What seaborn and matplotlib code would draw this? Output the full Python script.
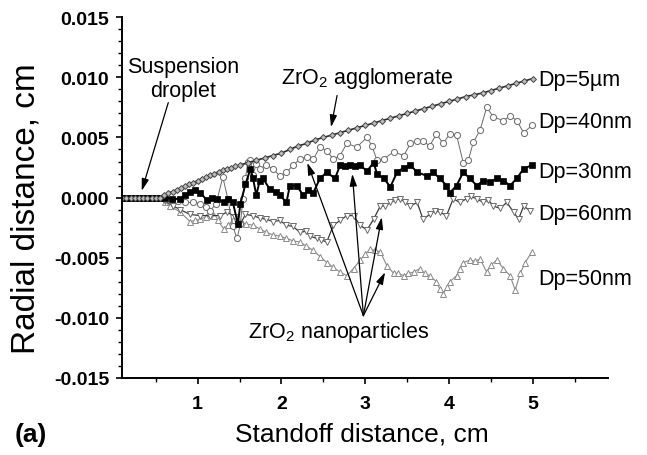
import matplotlib
matplotlib.use("Agg")
import matplotlib.pyplot as plt
import seaborn as sns
import numpy as np
from matplotlib.ticker import MultipleLocator, FixedLocator, FuncFormatter

# ---------------- data ----------------
x_flat = [0.10, 0.15, 0.20, 0.25, 0.30, 0.35, 0.40, 0.45, 0.50, 0.55]
y_flat = [0.0, 0.0, 0.0, 0.0, 0.0, 0.0, 0.0, 0.0, 0.0, 0.0]

x_5um = [0.60, 0.65, 0.70, 0.75, 0.80, 0.85, 0.90, 0.95, 1.00,
         1.05, 1.10, 1.15, 1.20, 1.25, 1.30, 1.35, 1.40, 1.45, 1.50,
         1.60, 1.70, 1.80, 1.90, 2.00,
         2.10, 2.20, 2.30, 2.40, 2.50, 2.60, 2.70, 2.80, 2.90, 3.00,
         3.10, 3.20, 3.30, 3.40, 3.50, 3.60, 3.70, 3.80, 3.90, 4.00,
         4.10, 4.20, 4.30, 4.40, 4.50, 4.60, 4.70, 4.80, 4.90, 5.00]
y_5um = [0.0002, 0.00035, 0.0005, 0.00065, 0.0008, 0.00095, 0.0011, 0.00125, 0.0014,
         0.00155, 0.0017, 0.00185, 0.0020, 0.00215, 0.0023, 0.0024, 0.0025, 0.0026, 0.0027,
         0.0029, 0.0031, 0.0033, 0.0035, 0.0037,
         0.0040, 0.0043, 0.0045, 0.0048, 0.0050, 0.0052, 0.0054, 0.0056, 0.0058, 0.0060,
         0.0062, 0.0064, 0.0066, 0.0068, 0.0070, 0.0072, 0.0074, 0.0076, 0.0078, 0.0080,
         0.0082, 0.0084, 0.00855, 0.0087, 0.0089, 0.0091, 0.0093, 0.0095, 0.0097, 0.0099]

x_40 = [0.61, 0.67, 0.76, 0.85, 0.94, 1.03, 1.10, 1.15, 1.22, 1.30,
        1.36, 1.42, 1.47, 1.51, 1.54, 1.57, 1.60, 1.63, 1.66, 1.70,
        1.74, 1.82, 1.90, 1.98, 2.06, 2.14, 2.22, 2.30, 2.38, 2.46,
        2.54, 2.62, 2.70, 2.78, 2.90, 3.02, 3.08, 3.14, 3.22, 3.34,
        3.46, 3.54, 3.62, 3.69, 3.77, 3.85, 3.93, 4.01, 4.09, 4.17,
        4.23, 4.29, 4.37, 4.45, 4.53, 4.65, 4.73, 4.81, 4.89, 4.99]
y_40 = [-0.0001, -0.0002, -0.0003, -0.0004, -0.0004, -0.0005, -0.0008, -0.0011, -0.0005, 0.0017,
        -0.0001, -0.0024, -0.0034, -0.0022, -0.0001, 0.0016, 0.0030, 0.0031, 0.0019, 0.0028,
        0.0024, 0.0027, 0.0024, 0.0018, 0.0021, 0.0027, 0.0032, 0.0034, 0.0032, 0.0042,
        0.0039, 0.0032, 0.0035, 0.0045, 0.0042, 0.0050, 0.0043, 0.0031, 0.0032, 0.0038,
        0.0035, 0.0045, 0.0047, 0.0047, 0.0043, 0.0053, 0.0045, 0.0053, 0.0052, 0.0029,
        0.0031, 0.0046, 0.0056, 0.0075, 0.0067, 0.0064, 0.0068, 0.0064, 0.0054, 0.0060]

x_30 = [0.61, 0.69, 0.79, 0.85, 0.91, 0.97, 1.03, 1.11, 1.17, 1.23,
        1.31, 1.36, 1.42, 1.48, 1.51, 1.57, 1.63, 1.66, 1.70, 1.74,
        1.78, 1.86, 1.94, 1.98, 2.06, 2.10, 2.18, 2.26, 2.32, 2.38,
        2.46, 2.54, 2.64, 2.70, 2.76, 2.82, 2.88, 2.94, 3.02, 3.10,
        3.14, 3.22, 3.30, 3.38, 3.46, 3.54, 3.62, 3.74, 3.81, 3.89,
        3.97, 4.01, 4.09, 4.17, 4.25, 4.33, 4.41, 4.49, 4.57, 4.65,
        4.73, 4.81, 4.89, 4.99]
y_30 = [0.0, -0.0001, -0.0001, 0.0002, 0.0005, 0.0006, 0.0004, -0.0002, 0.0, -0.0001,
        -0.0004, -0.0001, -0.0004, -0.0022, -0.0005, 0.0011, 0.0024, 0.0016, 0.0002, 0.0014,
        0.0016, 0.0007, 0.0005, 0.0002, -0.0004, 0.0010, 0.0010, 0.0002, 0.0006, 0.0004,
        0.0016, 0.0021, 0.0016, 0.0027, 0.0026, 0.0027, 0.0026, 0.0027, 0.0022, 0.0029,
        0.0020, 0.0016, 0.0009, 0.0021, 0.0025, 0.0027, 0.0021, 0.0018, 0.0021, 0.0016,
        0.0010, 0.0004, 0.0010, 0.0021, 0.0016, 0.0010, 0.0014, 0.0013, 0.0016, 0.0014,
        0.0010, 0.0016, 0.0024, 0.0027]

x_60 = [0.61, 0.71, 0.79, 0.91, 1.03, 1.15, 1.27, 1.35, 1.45, 1.51,
        1.57, 1.66, 1.74, 1.82, 1.90, 1.98, 2.06, 2.14, 2.22, 2.29,
        2.34, 2.42, 2.47, 2.54, 2.62, 2.70, 2.78, 2.86, 2.94, 3.02,
        3.10, 3.18, 3.24, 3.30, 3.36, 3.42, 3.48, 3.54, 3.62, 3.69,
        3.77, 3.83, 3.89, 3.97, 4.05, 4.13, 4.21, 4.26, 4.33, 4.41,
        4.47, 4.53, 4.61, 4.69, 4.77, 4.83, 4.89, 4.97]
y_60 = [-0.0003, -0.0007, -0.0010, -0.0014, -0.0015, -0.0015, -0.0015, -0.0012, -0.0016, -0.0022,
        -0.0014, -0.0015, -0.0017, -0.0018, -0.0020, -0.0019, -0.0023, -0.0024, -0.0029, -0.0028,
        -0.0032, -0.0034, -0.0035, -0.0037, -0.0023, -0.0019, -0.0015, -0.0015, -0.0023, -0.0027,
        -0.0018, -0.0007, -0.0007, -0.0004, -0.0002, -0.0001, -0.0004, -0.0007, -0.0004, -0.0018,
        -0.0014, -0.0011, -0.0012, -0.0015, -0.0001, -0.0004, -0.0001, 0.0001, -0.0001, -0.0004,
        -0.0002, -0.0007, -0.0009, -0.0004, -0.0012, -0.0018, -0.0007, -0.0011]

x_50 = [0.61, 0.67, 0.79, 0.91, 0.97, 1.03, 1.10, 1.19, 1.24, 1.31,
        1.36, 1.42, 1.51, 1.58, 1.66, 1.74, 1.82, 1.90, 1.98, 2.06,
        2.14, 2.22, 2.29, 2.38, 2.46, 2.54, 2.62, 2.70, 2.78, 2.86,
        2.94, 3.00, 3.06, 3.12, 3.18, 3.26, 3.34, 3.39, 3.46, 3.51,
        3.58, 3.65, 3.71, 3.77, 3.85, 3.89, 3.93, 3.98, 4.01, 4.09,
        4.13, 4.17, 4.25, 4.31, 4.37, 4.45, 4.50, 4.57, 4.65, 4.73,
        4.79, 4.85, 4.91, 4.99]
y_50 = [-0.0004, -0.0007, -0.0012, -0.0020, -0.0019, -0.0018, -0.0016, -0.0015, -0.0019, -0.0026,
        -0.0023, -0.0019, -0.0020, -0.0022, -0.0023, -0.0026, -0.0029, -0.0031, -0.0032, -0.0034,
        -0.0036, -0.0037, -0.0040, -0.0044, -0.0049, -0.0054, -0.0058, -0.0062, -0.0065, -0.0059,
        -0.0052, -0.0047, -0.0043, -0.0044, -0.0045, -0.0057, -0.0063, -0.0063, -0.0065, -0.0063,
        -0.0062, -0.0059, -0.0063, -0.0065, -0.0070, -0.0076, -0.0080, -0.0074, -0.0070, -0.0065,
        -0.0059, -0.0054, -0.0052, -0.0053, -0.0051, -0.0062, -0.0056, -0.0052, -0.0059, -0.0065,
        -0.0077, -0.0063, -0.0054, -0.0045]

series_labels = ["Dp=5\u00b5m", "Dp=40nm", "Dp=30nm", "Dp=60nm", "Dp=50nm"]
label_y = [0.00938, 0.00588, 0.00172, -0.00177, -0.00718]

y_ticks = [-0.015, -0.010, -0.005, 0.000, 0.005, 0.010, 0.015]
x_ticks = [1, 2, 3, 4, 5]

# ---------------- style ----------------
sns.set_style("ticks")
plt.rcParams['font.family'] = ['Liberation Sans', 'DejaVu Sans']
plt.rcParams['text.color'] = 'black'
plt.rcParams['axes.labelcolor'] = 'black'
plt.rcParams['axes.unicode_minus'] = False
plt.rcParams['mathtext.fontset'] = 'custom'
plt.rcParams['mathtext.rm'] = 'Liberation Sans'
plt.rcParams['mathtext.it'] = 'Liberation Sans:italic'
plt.rcParams['mathtext.bf'] = 'Liberation Sans:bold'

fig = plt.figure(figsize=(6.47, 4.56), dpi=100)
ax = fig.add_axes([0.189, 0.169, 0.751, 0.791])

common = dict(ax=ax, sort=False, estimator=None, legend=False)

# Dp = 50 nm (light grey up-triangles)
sns.lineplot(x=x_flat + x_50, y=y_flat + y_50, color="#8a8a8a", linewidth=0.8,
             marker="^", markersize=3.8, markerfacecolor="white",
             markeredgecolor="#8a8a8a", markeredgewidth=0.7, **common)
# Dp = 60 nm (grey down-triangles, dark line)
sns.lineplot(x=x_flat + x_60, y=y_flat + y_60, color="#3a3a3a", linewidth=0.9,
             marker="v", markersize=3.8, markerfacecolor="white",
             markeredgecolor="#6a6a6a", markeredgewidth=0.7, **common)
# Dp = 40 nm (open circles)
sns.lineplot(x=x_flat + x_40, y=y_flat + y_40, color="#6a6a6a", linewidth=0.7,
             marker="o", markersize=4.4, markerfacecolor="white",
             markeredgecolor="#707070", markeredgewidth=0.75, **common)
# Dp = 30 nm (black squares)
sns.lineplot(x=x_flat + x_30, y=y_flat + y_30, color="black", linewidth=1.4,
             marker="s", markersize=4.6, markerfacecolor="black",
             markeredgecolor="black", markeredgewidth=0.5, **common)
# Dp = 5 um (small diamonds)
sns.lineplot(x=x_flat + x_5um, y=y_flat + y_5um, color="#2a2a2a", linewidth=1.2,
             marker="D", markersize=3.0, markerfacecolor="#bdbdbd",
             markeredgecolor="#444444", markeredgewidth=0.7, **common)

# ---------------- axes ----------------
ax.set_xlim(0.1, 5.9)
ax.set_ylim(-0.015, 0.015)
ax.xaxis.set_major_locator(FixedLocator(x_ticks))
ax.xaxis.set_minor_locator(MultipleLocator(0.5))
ax.yaxis.set_major_locator(FixedLocator(y_ticks))
ax.yaxis.set_minor_locator(MultipleLocator(0.001))
ax.xaxis.set_major_formatter(FuncFormatter(lambda v, p: f"{v:.0f}"))
ax.yaxis.set_major_formatter(FuncFormatter(lambda v, p: f"{v:.3f}" if abs(v) > 1e-9 else "0.000"))

sns.despine(ax=ax)
for s in ["left", "bottom"]:
    ax.spines[s].set_linewidth(1.4)
    ax.spines[s].set_color("black")
ax.tick_params(axis="both", which="major", direction="out", length=4.5, width=1.2,
               labelsize=14, colors="black")
ax.tick_params(axis="both", which="minor", direction="out", length=3, width=1.0, colors="black")
ax.tick_params(axis="y", which="major", pad=5)
ax.tick_params(axis="x", which="major", pad=8)
for lab in ax.get_xticklabels() + ax.get_yticklabels():
    lab.set_fontweight("bold")

ax.set_xlabel("Standoff distance, cm", fontsize=19)
ax.set_ylabel("Radial distance, cm", fontsize=24)
ax.xaxis.label.set_va("center")
ax.yaxis.label.set_va("center")
ax.xaxis.set_label_coords(0.494, -0.155)
ax.yaxis.set_label_coords(-0.198, 0.471)

# ---------------- labels & annotations ----------------
for txt, yy in zip(series_labels, label_y):
    ax.text(5.064, yy, txt, fontsize=15.5, ha="left", va="baseline", clip_on=False)

ax.text(0.828, 0.00846, "Suspension\ndroplet", fontsize=15.5, ha="center",
        va="baseline", linespacing=1.15, multialignment="center")
ax.text(2.0, 0.0095, r"ZrO$_\mathregular{2}$ agglomerate", fontsize=15.5, ha="left", va="baseline")
ax.text(1.605, -0.0116, r"ZrO$_\mathregular{2}$ nanoparticles", fontsize=15.5, ha="left", va="baseline")

arrow = dict(arrowstyle="-|>,head_length=0.6,head_width=0.18", color="black", lw=0.9,
             mutation_scale=12, shrinkA=0, shrinkB=0)
ax.annotate("", xy=(0.332, 0.00056), xytext=(0.649, 0.0079), arrowprops=arrow)
ax.annotate("", xy=(2.592, 0.00586), xytext=(2.664, 0.00849), arrowprops=arrow)
tail = (2.978, -0.00982)
for head in [(2.309, 0.00289), (2.846, 0.00197), (3.197, -0.00163), (3.237, -0.00621)]:
    ax.annotate("", xy=head, xytext=tail, arrowprops=arrow)

fig.text(15 / 647, 1 - 435 / 456, "(a)", fontsize=19, fontweight="bold", ha="left", va="center")

fig.savefig("out.png", dpi=100)
